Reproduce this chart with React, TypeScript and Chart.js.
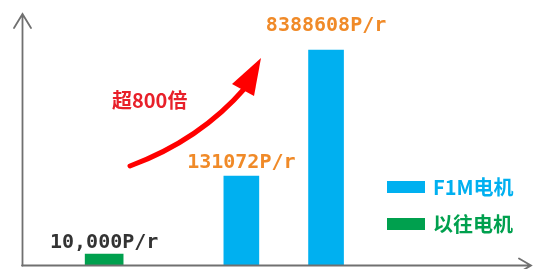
import React, { useEffect, useRef } from "react";
import { Chart, registerables } from "chart.js";

Chart.register(...registerables);

// ---- data ----
const seriesNames = ["F1M电机", "以往电机"];
const oldMotorSlots = [1.76];
const oldMotorValues = [10000];
const f1mSlots = [5, 7];
const f1mValues = [131072, 8388608];
const oldMotorLabels = ["10,000P/r"];
const f1mLabels = ["131072P/r", "8388608P/r"];
const annotationText = "超800倍";

const BLUE = "#00B0F0";
const GREEN = "#00A04E";
const ORANGE = "#F08A28";
const DARK = "#333333";
const RED = "#FF0000";
const RED_TEXT = "#E8202A";
const AXIS = "#707070";

const decorPlugin = {
  id: "decor",
  afterDatasetsDraw(chart: any) {
    const ctx = chart.ctx as CanvasRenderingContext2D;
    const area = chart.chartArea;
    ctx.save();

    // axes with arrows
    ctx.strokeStyle = AXIS;
    ctx.lineWidth = 1.8;
    ctx.lineCap = "round";
    ctx.beginPath();
    ctx.moveTo(area.left + 0.5, area.bottom + 0.5);
    ctx.lineTo(area.left + 0.5, area.top);
    ctx.moveTo(area.left + 0.5 - 8.5, area.top + 14);
    ctx.lineTo(area.left + 0.5, area.top);
    ctx.lineTo(area.left + 0.5 + 8.5, area.top + 14);
    ctx.stroke();
    ctx.beginPath();
    ctx.moveTo(area.left, area.bottom + 0.5);
    ctx.lineTo(area.right, area.bottom + 0.5);
    ctx.moveTo(area.right - 12, area.bottom + 0.5 - 7);
    ctx.lineTo(area.right, area.bottom + 0.5);
    ctx.lineTo(area.right - 12, area.bottom + 0.5 + 7);
    ctx.stroke();

    // value labels
    ctx.font = "bold 20px 'DejaVu Sans Mono'";
    ctx.textAlign = "center";
    ctx.textBaseline = "alphabetic";
    const m1 = chart.getDatasetMeta(1);
    m1.data.forEach((el: any, i: number) => {
      ctx.fillStyle = DARK;
      ctx.fillText(oldMotorLabels[i], el.x, el.y - 6);
    });
    const m0 = chart.getDatasetMeta(0);
    const gaps = [8, 19];
    m0.data.forEach((el: any, i: number) => {
      ctx.fillStyle = ORANGE;
      ctx.fillText(f1mLabels[i], el.x, el.y - gaps[i]);
    });

    // red curved arrow
    ctx.strokeStyle = RED;
    ctx.fillStyle = RED;
    ctx.lineWidth = 5;
    ctx.lineCap = "round";
    ctx.beginPath();
    ctx.moveTo(130, 166);
    ctx.quadraticCurveTo(200, 140, 245, 88);
    ctx.stroke();
    ctx.beginPath();
    ctx.moveTo(261, 58);
    ctx.lineTo(232, 84);
    ctx.lineTo(254, 96);
    ctx.closePath();
    ctx.fill();

    ctx.font = "bold 20px 'Noto Sans CJK SC'";
    ctx.textAlign = "left";
    ctx.textBaseline = "middle";
    ctx.fillStyle = RED_TEXT;
    ctx.fillText(annotationText, 112, 100);

    // legend
    const legendColors = [BLUE, GREEN];
    const legendY = [187, 224];
    seriesNames.forEach((name, i) => {
      ctx.fillStyle = legendColors[i];
      ctx.fillRect(387, legendY[i] - 6, 38, 12);
      ctx.fillText(name, 433, legendY[i]);
    });

    ctx.restore();
  },
};

export default function App() {
  const ref = useRef<HTMLCanvasElement | null>(null);
  useEffect(() => {
    if (!ref.current) return;
    const chart = new Chart(ref.current, {
      type: "bar",
      data: {
        datasets: [
          {
            label: seriesNames[0],
            data: f1mSlots.map((x, i) => ({ x, y: f1mValues[i] })),
            backgroundColor: BLUE,
            barThickness: 35,
            grouped: false,
          } as any,
          {
            label: seriesNames[1],
            data: oldMotorSlots.map((x, i) => ({ x, y: oldMotorValues[i] })),
            backgroundColor: GREEN,
            barThickness: 38,
            grouped: false,
          } as any,
        ],
      },
      options: {
        animation: false,
        responsive: true,
        maintainAspectRatio: false,
        layout: { padding: { left: 22, right: 7, top: 14, bottom: 4 } },
        plugins: { legend: { display: false }, tooltip: { enabled: false } },
        scales: {
          x: { type: "linear", offset: false, min: -0.18, max: 11.84, display: false },
          y: { type: "logarithmic", min: 7000, max: 27600000, display: false },
        },
      },
      plugins: [decorPlugin],
    });
    return () => chart.destroy();
  }, []);
  return (
    <div style={{ position: "fixed", left: 0, top: 0, width: 538, height: 269, background: "#fff" }}>
      <canvas ref={ref} />
    </div>
  );
}
